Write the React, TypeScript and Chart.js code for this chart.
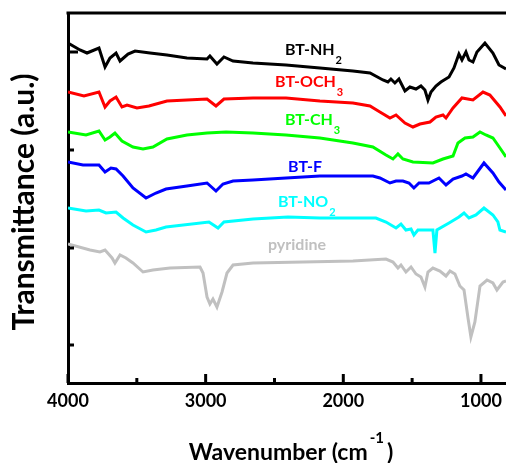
import React, { useEffect, useRef } from 'react';
import { Chart, registerables } from 'chart.js';

Chart.register(...registerables);

// ---- data (wavenumber in cm-1, transmittance in arbitrary offset units) ----
const nh2Wn = [4000, 3913, 3862, 3775, 3731, 3695, 3651, 3622, 3564, 3513, 3404, 3281, 3136, 2990, 2969, 2918, 2867, 2801, 2656, 2416, 2170, 1930, 1806, 1712, 1676, 1654, 1625, 1596, 1552, 1516, 1472, 1436, 1407, 1385, 1363, 1327, 1291, 1232, 1196, 1160, 1138, 1109, 1087, 1058, 1029, 971, 913, 869, 818];
const nh2T = [34.0, 33.3, 33.0, 33.5, 31.6, 32.5, 33.0, 32.2, 32.9, 33.2, 33.0, 32.8, 32.5, 32.4, 32.7, 31.9, 32.6, 32.2, 32.0, 31.8, 31.5, 31.2, 31.0, 30.3, 30.1, 30.4, 30.0, 30.4, 29.2, 29.6, 29.4, 29.7, 29.3, 28.3, 29.1, 29.7, 30.1, 30.6, 31.5, 32.9, 32.3, 33.1, 32.3, 32.1, 33.1, 34.0, 33.0, 31.8, 31.4];

const och3Wn = [4000, 3884, 3775, 3731, 3695, 3651, 3608, 3571, 3499, 3412, 3281, 3136, 2990, 2925, 2867, 2656, 2416, 2170, 1930, 1806, 1734, 1661, 1617, 1552, 1494, 1443, 1370, 1327, 1276, 1254, 1203, 1138, 1058, 985, 935, 862, 818];
const och3T = [29.1, 28.7, 29.1, 27.6, 28.2, 28.6, 27.6, 27.8, 27.5, 27.7, 28.2, 28.3, 28.4, 27.7, 28.4, 28.5, 28.5, 28.2, 28.0, 27.7, 27.1, 26.5, 26.8, 26.0, 25.6, 25.9, 26.1, 26.6, 26.8, 26.5, 27.5, 28.5, 28.3, 29.1, 28.8, 27.6, 26.7];

const ch3Wn = [4000, 3869, 3775, 3731, 3695, 3659, 3608, 3528, 3455, 3383, 3281, 3136, 2990, 2852, 2656, 2416, 2170, 1930, 1785, 1690, 1639, 1603, 1567, 1494, 1349, 1276, 1203, 1167, 1116, 1058, 1007, 964, 913, 862, 818];
const ch3T = [25.1, 24.8, 25.2, 24.3, 24.6, 25.0, 24.2, 23.6, 23.4, 23.6, 24.4, 24.8, 25.0, 25.1, 25.0, 24.8, 24.5, 24.0, 23.6, 22.8, 22.4, 22.9, 22.4, 22.1, 22.0, 22.4, 22.7, 24.0, 24.5, 24.6, 25.1, 24.8, 24.5, 23.5, 22.6];

const fWn = [4000, 3891, 3775, 3731, 3688, 3651, 3600, 3528, 3433, 3361, 3288, 3136, 2990, 2925, 2874, 2801, 2656, 2416, 2170, 1785, 1734, 1661, 1617, 1567, 1523, 1487, 1450, 1378, 1305, 1254, 1203, 1138, 1109, 1058, 978, 913, 869, 818];
const fT = [22.1, 21.8, 21.8, 21.1, 21.5, 21.4, 20.7, 19.5, 18.5, 19.0, 19.4, 19.7, 20.0, 19.2, 19.9, 20.2, 20.3, 20.5, 20.7, 20.7, 20.5, 20.0, 20.2, 20.2, 20.0, 19.5, 20.0, 20.0, 20.5, 19.8, 20.4, 20.7, 20.9, 20.5, 22.0, 21.0, 20.1, 19.3];

const no2Wn = [4000, 3869, 3775, 3724, 3651, 3600, 3528, 3433, 3361, 3288, 2976, 2910, 2867, 2656, 2402, 2170, 1763, 1690, 1617, 1581, 1545, 1508, 1487, 1458, 1378, 1349, 1334, 1320, 1232, 1160, 1123, 1087, 1036, 978, 913, 877, 862, 818];
const no2T = [17.5, 17.2, 17.3, 17.0, 17.1, 16.5, 15.8, 15.1, 15.3, 15.6, 16.1, 15.5, 16.1, 16.4, 16.6, 16.5, 16.5, 16.1, 15.5, 15.9, 15.3, 15.4, 14.8, 15.3, 15.3, 15.3, 13.0, 15.3, 16.0, 16.6, 17.0, 16.5, 16.8, 17.5, 16.8, 16.1, 15.3, 15.1];

const pyWn = [4000, 3840, 3768, 3731, 3680, 3659, 3622, 3579, 3528, 3455, 3383, 3259, 3041, 3019, 2990, 2969, 2947, 2918, 2881, 2845, 2801, 2656, 2293, 1930, 1690, 1639, 1603, 1581, 1545, 1508, 1472, 1436, 1407, 1385, 1349, 1298, 1254, 1225, 1189, 1153, 1123, 1094, 1073, 1044, 1007, 956, 913, 884, 840, 818];
const pyT = [13.9, 13.3, 13.1, 13.3, 12.5, 12.0, 12.8, 12.5, 12.0, 11.1, 11.3, 11.5, 11.6, 11.0, 8.6, 7.9, 8.4, 7.6, 9.1, 11.0, 11.8, 12.0, 12.1, 12.2, 12.4, 12.1, 11.5, 11.8, 11.1, 11.6, 10.9, 10.6, 9.6, 11.1, 11.5, 11.2, 10.7, 11.2, 10.9, 9.7, 9.3, 6.5, 4.6, 6.1, 9.7, 10.3, 10.0, 9.3, 10.1, 10.2];

const seriesMain = ['BT-NH', 'BT-OCH', 'BT-CH', 'BT-F', 'BT-NO', 'pyridine'];
const seriesSub = ['2', '3', '3', '', '2', ''];
const seriesColors = ['#000000', '#ff0000', '#00ff00', '#0000ff', '#00ffff', '#c0c0c0'];

const xMajorTicks = [4000, 3000, 2000, 1000];
const xMinorTicks = [3500, 2500, 1500];
const yMajorTicks = [33.1];
const yMinorTicks = [23.3, 13.5, 3.8];
const xMin = 818;
const xMax = 4000;
const yMin = 0;
const yMax = 37;

const xTitleMain = 'Wavenumber (cm';
const xTitleSup = '-1';
const xTitleEnd = ')';
const yTitle = 'Transmittance (a.u.)';

// label anchors (left edge wavenumber, baseline value)
const labelWn = [2424, 2496, 2424, 2402, 2475, 2547];
const labelY = [32.8, 29.6, 25.8, 21.1, 17.6, 13.3];

const FONT = 'Lato, "Open Sans", sans-serif';

function zip(xs: number[], ys: number[]) {
  return xs.map((v, i) => ({ x: v, y: ys[i] }));
}

const decorPlugin = {
  id: 'decor',
  afterDraw(chart: any) {
    const { ctx, chartArea: a, scales } = chart;
    const xs = scales.x;
    const ys = scales.y;
    ctx.save();
    ctx.strokeStyle = '#000';
    ctx.lineWidth = 3;
    ctx.lineCap = 'butt';
    const seg = (x1: number, y1: number, x2: number, y2: number) => {
      ctx.beginPath();
      ctx.moveTo(x1, y1);
      ctx.lineTo(x2, y2);
      ctx.stroke();
    };
    // top frame line
    seg(a.left - 1.5, a.top, a.right, a.top);
    // inward ticks
    xMajorTicks.forEach((v) => {
      const p = xs.getPixelForValue(v);
      seg(p, a.bottom, p, a.bottom - 9);
    });
    xMinorTicks.forEach((v) => {
      const p = xs.getPixelForValue(v);
      seg(p, a.bottom, p, a.bottom - 5);
    });
    yMajorTicks.forEach((v) => {
      const p = ys.getPixelForValue(v);
      seg(a.left, p, a.left + 10, p);
    });
    yMinorTicks.forEach((v) => {
      const p = ys.getPixelForValue(v);
      seg(a.left, p, a.left + 6, p);
    });

    // series labels
    ctx.textBaseline = 'alphabetic';
    ctx.textAlign = 'left';
    seriesMain.forEach((t, i) => {
      const px = xs.getPixelForValue(labelWn[i]);
      const py = ys.getPixelForValue(labelY[i]);
      ctx.fillStyle = seriesColors[i];
      ctx.font = `bold 16px ${FONT}`;
      ctx.fillText(t, px, py);
      const w = ctx.measureText(t).width;
      if (seriesSub[i]) {
        ctx.font = `bold 11px ${FONT}`;
        ctx.fillText(seriesSub[i], px + w + 1, py + 9);
      }
    });

    // x title with superscript
    ctx.fillStyle = '#000';
    ctx.font = `bold 23px ${FONT}`;
    const w1 = ctx.measureText(xTitleMain).width;
    const w3 = ctx.measureText(xTitleEnd).width;
    ctx.font = `bold 15px ${FONT}`;
    const w2 = ctx.measureText(xTitleSup).width;
    const total = w1 + w2 + w3 + 5;
    const cx = (a.left + a.right) / 2 + 4;
    const base = 460;
    let sx = cx - total / 2;
    ctx.font = `bold 23px ${FONT}`;
    ctx.fillText(xTitleMain, sx, base);
    sx += w1 + 2;
    ctx.font = `bold 15px ${FONT}`;
    ctx.fillText(xTitleSup, sx, base - 17);
    sx += w2 + 3;
    ctx.font = `bold 23px ${FONT}`;
    ctx.fillText(xTitleEnd, sx, base);

    // y title (rotated)
    ctx.save();
    ctx.translate(24, (a.top + a.bottom) / 2 + 4);
    ctx.rotate(-Math.PI / 2);
    ctx.textAlign = 'center';
    ctx.textBaseline = 'middle';
    ctx.font = `bold 30px ${FONT}`;
    ctx.fillText(yTitle, 0, 0);
    ctx.restore();

    ctx.restore();
  },
};

export default function App() {
  const ref = useRef<HTMLCanvasElement | null>(null);

  useEffect(() => {
    if (!ref.current) return;
    const wns = [nh2Wn, och3Wn, ch3Wn, fWn, no2Wn, pyWn];
    const ts = [nh2T, och3T, ch3T, fT, no2T, pyT];
    const chart = new Chart(ref.current, {
      type: 'line',
      data: {
        datasets: seriesMain.map((name, i) => ({
          label: name + seriesSub[i],
          data: zip(wns[i], ts[i]),
          borderColor: seriesColors[i],
          backgroundColor: seriesColors[i],
          borderWidth: 3,
          pointRadius: 0,
          tension: 0,
          fill: false,
        })),
      },
      options: {
        animation: false,
        responsive: true,
        maintainAspectRatio: false,
        devicePixelRatio: 1,
        events: [],
        layout: { padding: { top: 13, right: 0, left: 0, bottom: 0 } },
        plugins: {
          legend: { display: false },
          tooltip: { enabled: false },
        },
        scales: {
          x: {
            type: 'linear',
            reverse: true,
            min: xMin,
            max: xMax,
            afterBuildTicks: (s: any) => {
              s.ticks = [...xMajorTicks, ...xMinorTicks]
                .sort((p, q) => q - p)
                .map((v) => ({ value: v }));
            },
            afterFit: (s: any) => {
              s.height = 80;
              s.paddingLeft = 0;
              s.paddingRight = 0;
            },
            ticks: {
              autoSkip: false,
              maxRotation: 0,
              minRotation: 0,
              padding: 7,
              color: '#000',
              font: { family: FONT, size: 18, weight: 'bold' },
              callback: (v: any) => (xMajorTicks.includes(Number(v)) ? String(v) : ''),
            },
            grid: { display: false, drawTicks: false },
            border: { display: true, color: '#000', width: 3 },
          },
          y: {
            type: 'linear',
            min: yMin,
            max: yMax,
            afterBuildTicks: (s: any) => {
              s.ticks = [...yMajorTicks, ...yMinorTicks].map((v) => ({ value: v }));
            },
            afterFit: (s: any) => {
              s.width = 68;
              s.paddingTop = 0;
              s.paddingBottom = 0;
            },
            ticks: { display: false },
            grid: { display: false, drawTicks: false },
            border: { display: true, color: '#000', width: 3 },
            title: { display: false },
          },
        },
      },
      plugins: [decorPlugin],
    } as any);
    return () => chart.destroy();
  }, []);

  return (
    <div style={{ position: 'absolute', left: 0, top: 0, width: 506, height: 463, overflow: 'hidden' }}>
      <canvas ref={ref} />
    </div>
  );
}
